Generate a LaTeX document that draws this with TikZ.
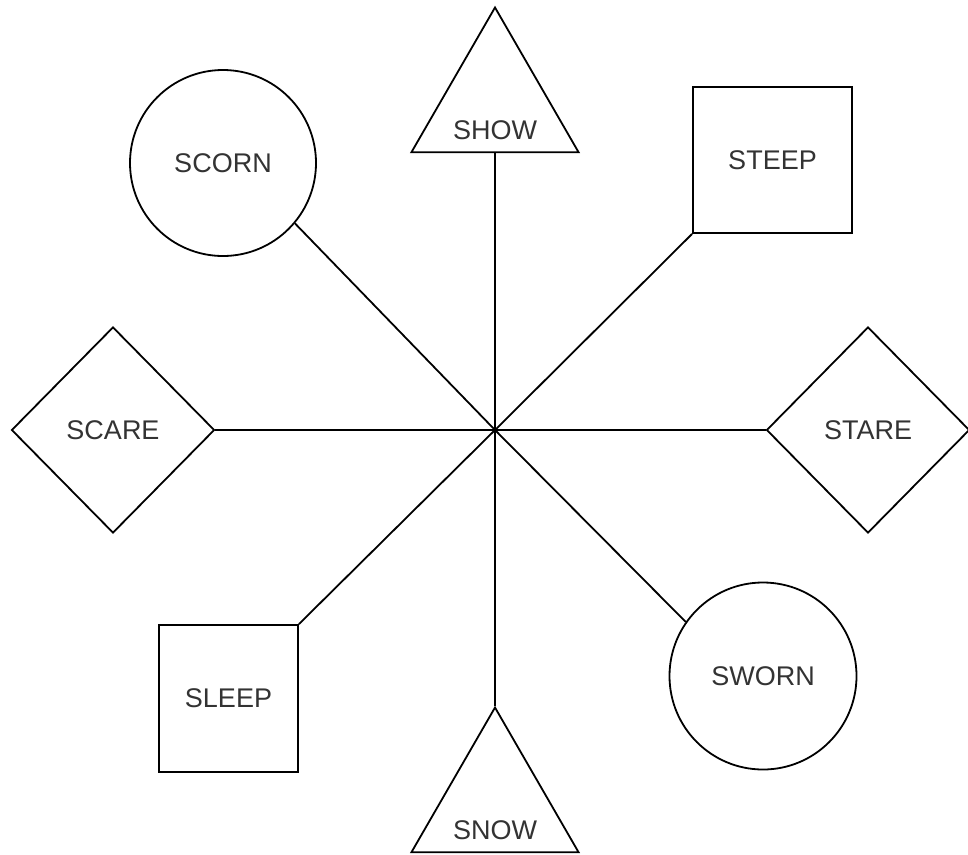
\documentclass[tikz,border=0pt]{standalone}
\usepackage{fontspec}
\setmainfont{Liberation Sans}
\usetikzlibrary{shapes.geometric,positioning}

\begin{document}
\begin{tikzpicture}[x=1pt,y=-1pt,line width=1.8pt,
  font=\fontsize{27}{30}\selectfont,
  tri/.style={draw,regular polygon,regular polygon sides=3,minimum size=193pt,inner sep=0pt},
  rhomb/.style={draw,diamond,minimum width=203pt,minimum height=206pt,inner sep=0pt},
  disc/.style={draw,circle,minimum size=186pt,inner sep=0pt},
  box/.style={draw,rectangle,inner sep=0pt},
  word/.style={inner sep=0pt,text=black!80}]
  \useasboundingbox (0,0) rectangle (968,854);

  % 中心点
  \coordinate (hub) at (495,430);

  % 上下两个三角形, 文字靠近底边
  \node[tri] (show) at (495,104) {};
  \node[word,above=12pt of show.south] (showtxt) {SHOW};
  \node[tri] (snow) at (495,804) {};
  \node[word,above=13pt of snow.south] (snowtxt) {SNOW};

  % 左右两个菱形
  \node[rhomb,text=black!80] (scare) at (113,430) {SCARE};
  \node[rhomb,text=black!80] (stare) at (868,430) {STARE};

  % 两个圆
  \node[disc,text=black!80] (scorn) at (223,163) {SCORN};
  \node[disc,text=black!80,minimum size=187pt] (sworn) at (763,676) {SWORN};

  % 两个方框
  \node[box,text=black!80,minimum width=159pt,minimum height=146pt] (steep) at (772.5,160) {STEEP};
  \node[box,text=black!80,minimum width=139pt,minimum height=147pt] (sleep) at (228.5,698.5) {SLEEP};

  % 从中心出发的八条线
  \draw (hub) -- (show.south);
  \draw (hub) -- (snow.corner 1);
  \draw (hub) -- (scare.east);
  \draw (hub) -- (stare.west);
  \draw (hub) -- (steep.south west);
  \draw (hub) -- (sleep.north east);
  \draw (hub) -- (scorn.320);
  \draw (hub) -- (sworn.145);
\end{tikzpicture}
\end{document}
